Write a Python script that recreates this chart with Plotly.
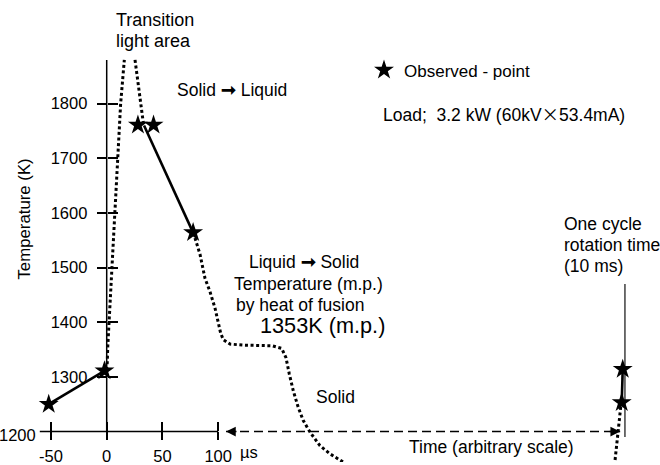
import plotly.graph_objects as go

# ---------------- data ----------------
# observed points: time (µs, linear part; the last pair sits at the arbitrary-scale end) and temperature (K)
obs_time = [-52, -2, 28, 42, 77.5, 462.8, 461.9]
obs_temp = [1250, 1311, 1761, 1761, 1564, 1314, 1253]

# solid segments joining observations
seg1_time = [-52, -2]
seg1_temp = [1250, 1311]
seg2_time = [33.5, 77.5]
seg2_temp = [1760, 1564]
seg3_time = [462.8, 461.9]
seg3_temp = [1314, 1253]

# dotted curves
rise_time = [-0.2, 0.5, 0.9, 2.1, 4.5, 6.8, 9.8, 12.5, 15.8]
rise_temp = [1313, 1326, 1353, 1400, 1500, 1600, 1700, 1800, 1880]
fall_time = [25.4, 29.0, 33.0]
fall_temp = [1880, 1822, 1762]
cool_time = [77.7, 83.7, 88.2, 92.6, 97.1, 100.1, 102.2, 104.6, 110.6, 122.5,
             148.0, 157.0, 160.8, 163.8, 167.4, 171.8, 176.3, 182.3, 191.3, 200.3, 212.2]
cool_temp = [1564, 1524, 1480, 1456, 1426, 1402, 1380, 1368, 1360, 1358,
             1357, 1352, 1335, 1305, 1274, 1244, 1220, 1199, 1174, 1159, 1144]
tail_time = [461.0, 458.4, 455.9]
tail_temp = [1245, 1199, 1147]

# one-cycle rotation marker line and the arbitrary time arrow
cycle_time = [464.8, 464.8]
cycle_temp = [1470, 1190]
arrow_time = [107, 460.5]
arrow_temp = [1200, 1200]

# axes
x_ticks = [-50, 0, 50, 100]
x_ticktext = ["-50", "0", "50", "100"]
y_ticks = [1300, 1400, 1500, 1600, 1700, 1800]
x_axis_start = -60
x_axis_end = 100
y_axis_base = 1200
y_axis_top = 1880

# ---------------- geometry ----------------
W, H = 660, 465
PX_PER_US = 1.115
PX_PER_K = 0.55
X0_PX, Y1200_PX = 106.7, 434.3
X0 = -X0_PX / PX_PER_US
X1 = X0 + W / PX_PER_US
Y0 = 1200 - (H - Y1200_PX) / PX_PER_K
Y1 = Y0 + H / PX_PER_K

FONT = "Liberation Sans, Arial, Helvetica, sans-serif"
BLACK = "#000000"
DOT = "3px,2.6px"
ARROW = "<b>\u279e</b>"

fig = go.Figure()

def dotted(t, T):
    fig.add_trace(go.Scatter(x=t, y=T, mode="lines", showlegend=False, hoverinfo="skip",
                             line=dict(color=BLACK, width=3, dash=DOT)))

def solid(t, T, w=2.6, color=BLACK):
    fig.add_trace(go.Scatter(x=t, y=T, mode="lines", showlegend=False, hoverinfo="skip",
                             line=dict(color=color, width=w)))

dotted(rise_time, rise_temp)
dotted(fall_time, fall_temp)
dotted(cool_time, cool_temp)
dotted(tail_time, tail_temp)
solid(cycle_time, cycle_temp, w=1.3, color="#222222")
fig.add_trace(go.Scatter(x=arrow_time, y=arrow_temp, mode="lines", showlegend=False, hoverinfo="skip",
                         line=dict(color=BLACK, width=1.6, dash="9px,5px")))
solid(seg1_time, seg1_temp)
solid(seg2_time, seg2_temp)
solid(seg3_time, seg3_temp)
fig.add_trace(go.Scatter(x=obs_time, y=obs_temp, mode="markers", name="Observed - point",
                         marker=dict(symbol="star", size=15, color=BLACK, line=dict(width=0))))
# dummy trace so the overlaid tick axes are drawn
fig.add_trace(go.Scatter(x=[None], y=[None], xaxis="x2", yaxis="y2", showlegend=False, hoverinfo="skip"))

# axis lines
fig.add_shape(type="line", xref="x", yref="y", x0=0, x1=0, y0=y_axis_base, y1=y_axis_top,
              line=dict(color=BLACK, width=1.5))
fig.add_shape(type="line", xref="x", yref="y", x0=x_axis_start, x1=x_axis_end, y0=y_axis_base, y1=y_axis_base,
              line=dict(color=BLACK, width=1.5))

xpos = (1200 - Y0) / (Y1 - Y0)
ypos = (0 - X0) / (X1 - X0)

common = dict(showgrid=False, zeroline=False, showline=False, tickcolor=BLACK, tickwidth=1.5)
fig.update_layout(
    width=W, height=H, margin=dict(l=0, r=0, t=0, b=0),
    paper_bgcolor="white", plot_bgcolor="white",
    font=dict(family=FONT, size=17, color=BLACK),
    xaxis=dict(range=[X0, X1], anchor="free", position=xpos, ticks="outside", ticklen=8,
               tickvals=x_ticks, ticktext=x_ticktext, tickfont=dict(size=16.5), ticklabelstandoff=2, **common),
    xaxis2=dict(range=[X0, X1], overlaying="x", anchor="free", position=xpos, ticks="inside", ticklen=9,
                tickvals=x_ticks, showticklabels=False, **common),
    yaxis=dict(range=[Y0, Y1], anchor="free", position=ypos, ticks="outside", ticklen=10,
               tickvals=y_ticks, tickfont=dict(size=16.5), ticklabelstandoff=6, **common),
    yaxis2=dict(range=[Y0, Y1], overlaying="y", anchor="free", position=ypos, ticks="inside", ticklen=10,
                tickvals=y_ticks, showticklabels=False, **common),
    legend=dict(x=364 / W, y=1 - 71 / H, xanchor="left", yanchor="middle", font=dict(size=17),
                bgcolor="rgba(0,0,0,0)", borderwidth=0),
    showlegend=True,
)

def label(text, px, py, size=17.5, xanchor="left", angle=0):
    fig.add_annotation(text=text, xref="paper", yref="paper", x=px / W, y=1 - py / H,
                       xanchor=xanchor, yanchor="middle", showarrow=False, textangle=angle,
                       font=dict(size=size, family=FONT, color=BLACK))

label("Transition", 114, 20, size=18)
label("light area", 114, 41, size=18)
label("Solid " + ARROW + " Liquid", 175, 91)
label("Load;\u00a0 3.2 kW (60kV<span style=\"font-family:'Noto Sans CJK JP'\">\u00d7</span>53.4mA)",
      381, 114)
label("Liquid " + ARROW + " Solid", 247, 264)
label("Temperature (m.p.)", 232, 286)
label("by heat of fusion", 234, 307)
label("1353K (m.p.)", 258, 328, size=21.7)
label("Solid", 314, 400)
label("Time (arbitrary scale)", 407, 450)
label("One cycle", 562, 225)
label("rotation time", 562, 247)
label("(10 ms)", 562, 268)
label("1200", 38, 438, size=16.5, xanchor="right")
label("\u00b5s", 238, 455, size=16.5)
label("Temperature (K)", 25, 221, size=16.8, xanchor="center", angle=-90)

# arrowheads of the arbitrary time arrow
for tip, off in [(arrow_time[0], 12), (arrow_time[1], -12)]:
    fig.add_annotation(x=tip, y=1200, xref="x", yref="y", ax=off, ay=0, text="", showarrow=True,
                       arrowhead=2, arrowsize=1.3, arrowwidth=1.5, arrowcolor=BLACK, standoff=0)

fig.write_html("out.html", config={"displayModeBar": False},
               post_script="document.body.style.margin='0px';document.body.style.overflow='hidden';")
